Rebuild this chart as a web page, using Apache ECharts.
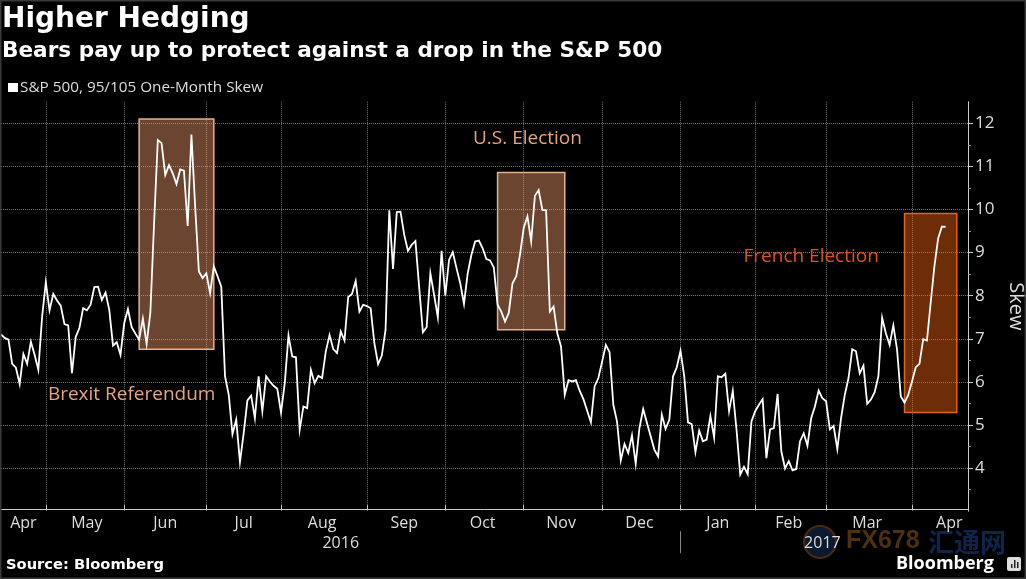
<!DOCTYPE html>
<html>
<head>
<meta charset="utf-8">
<style>
html,body{margin:0;padding:0;background:#000;}
#chart{width:1026px;height:579px;}
</style>
<script src="https://cdn.jsdelivr.net/npm/echarts@6/dist/echarts.min.js"></script>
</head>
<body>
<div id="chart"></div>
<script>
// skew per trading day
var apr16 = [7.10,7.02,6.98,6.42,6.33,5.95,6.65,6.42,6.93,6.63,6.28,7.50];
var may16 = [8.31,7.66,8.04,7.89,7.77,7.34,7.31,6.20,7.04,7.25,7.71,7.66,7.79,8.20,8.21,7.90,8.07,7.67,6.84,6.92,6.63];
var jun16 = [7.36,7.69,7.27,7.12,6.98,7.47,6.88,7.60,9.68,11.61,11.54,10.80,11.03,10.84,10.59,10.93,10.90,9.62,11.74,10.07,8.56,8.41];
var jul16 = [8.52,8.06,8.68,8.45,8.21,6.13,5.70,4.79,5.12,4.14,4.81,5.57,5.68,5.16,6.13,5.32,6.13,6.01,5.91,5.84];
var aug16 = [5.29,5.97,7.08,6.59,6.57,4.89,5.43,5.39,6.28,5.97,6.14,6.09,6.71,7.09,6.76,6.67,7.17,6.96,7.97,8.04,8.34,7.63,7.79];
var sep16 = [7.76,7.71,6.90,6.41,6.61,7.21,9.98,8.62,9.94,9.95,9.41,9.04,9.18,9.27,8.20,7.15,7.27,8.52,8.02,7.50,9.04];
var oct16 = [8.00,8.83,9.01,8.64,8.29,7.81,8.52,8.95,9.26,9.28,9.10,8.85,8.82,8.65,7.79,7.63,7.40,7.60,8.29,8.45,8.95];
var nov16 = [9.57,9.84,9.26,10.32,10.45,9.99,9.98,7.63,7.75,7.13,6.82,5.70,6.04,6.01,6.04,5.79,5.60,5.33,5.06,5.90,6.09];
var dec16 = [6.47,6.86,6.69,5.47,5.08,4.18,4.56,4.35,4.76,4.10,4.93,5.37,5.05,4.74,4.43,4.27,5.24,4.91,5.12,6.13,6.34];
var jan17 = [6.72,6.13,5.06,5.02,4.37,4.87,4.62,4.66,5.21,4.71,6.13,6.11,6.19,5.32,5.79,4.89,3.85,4.03,3.86,5.08];
var feb17 = [5.32,5.47,5.60,4.23,4.90,4.93,5.72,4.39,3.99,4.16,3.95,3.98,4.62,4.81,4.52,5.16,5.43,5.80,5.62];
var mar17 = [5.55,4.90,4.98,4.44,5.16,5.70,6.09,6.76,6.71,6.20,6.38,5.49,5.59,5.76,6.13,7.49,7.13,6.86,7.31,6.75,5.66,5.52,5.70];
var apr17 = [6.01,6.34,6.42,6.99,6.96,7.83,8.68,9.33,9.60,9.60];
var axisPadding = [null,null,null,null,null,null];

var monthNames = ['Apr','May','Jun','Jul','Aug','Sep','Oct','Nov','Dec','Jan','Feb','Mar','Apr'];
var monthLabelIndex = [6,23,44,65,86,108,129,150,171,192,211,232,254];
var yearNames = ['2016','2017'];
var yearLabelIndex = [91,220];
var yTicks = [4,5,6,7,8,9,10,11,12];

// annotation boxes: first index, last index, top, bottom
var brexitBox = [37,57,12.10,6.76];
var usBox = [133,151,10.86,7.21];
var frenchBox = [242,256,9.91,5.29];
// annotation text: index, value
var brexitText = [35,5.70];
var usText = [141,11.64];
var frenchText = [217,8.90];

var months = [apr16,may16,jun16,jul16,aug16,sep16,oct16,nov16,dec16,jan17,feb17,mar17,apr17];
var skew = [].concat.apply([],months).concat(axisPadding);
var categories = skew.map(function(v,i){ return 'd'+i; });

// index of first trading day of each month, Apr 2016 is cut off so skip it
var monthStarts = [];
var n = 0;
months.forEach(function(m,i){ if(i>0) monthStarts.push(n); n += m.length; });
var jan17Start = monthStarts[8];

var myChart = echarts.init(document.getElementById('chart'));
var textFont = '"Open Sans"';

var option = {
    animation:false,
    backgroundColor:'#000',
    title:[
        {text:'Higher Hedging',left:2,top:6,padding:0,textStyle:{color:'#fff',fontFamily:'"DejaVu Sans"',fontWeight:'bold',fontSize:28}},
        {text:'Bears pay up to protect against a drop in the S&P 500',left:2,top:40,padding:0,textStyle:{color:'#fff',fontFamily:'"DejaVu Sans"',fontWeight:'bold',fontSize:21.6}}
    ],
    legend:{
        left:8,top:80,padding:0,itemWidth:10,itemHeight:9,itemGap:2,icon:'rect',
        data:['S&P 500, 95/105 One-Month Skew'],
        textStyle:{color:'#ddd',fontFamily:textFont,fontSize:15.3,padding:[0,0,0,-3]}
    },
    grid:{left:1,width:967,top:101.75,height:409.45,outerBoundsMode:'none'},
    xAxis:[
        {
            type:'category',data:categories,boundaryGap:false,position:'bottom',offset:-2,
            axisLine:{lineStyle:{color:'#ccc',width:1}},
            axisTick:{inside:true,length:4,lineStyle:{color:'#ccc'},interval:function(i){ return monthStarts.indexOf(i)>=0; }},
            splitLine:{show:true,lineStyle:{color:'#777',type:'dotted',width:1},interval:function(i){ return monthStarts.indexOf(i)>=0; }},
            axisLabel:{
                color:'#ddd',fontFamily:textFont,fontSize:16,margin:6,
                interval:function(i){ return monthLabelIndex.indexOf(i)>=0; },
                formatter:function(v,i){ return monthNames[monthLabelIndex.indexOf(i)]; }
            }
        },
        {
            type:'category',data:categories,boundaryGap:false,position:'bottom',offset:20,
            axisLine:{show:false},
            axisTick:{length:22,lineStyle:{color:'#888'},interval:function(i){ return i===jan17Start; }},
            axisLabel:{
                color:'#ddd',fontFamily:textFont,fontSize:16,margin:4,
                interval:function(i){ return yearLabelIndex.indexOf(i)>=0; },
                formatter:function(v,i){ return yearNames[yearLabelIndex.indexOf(i)]; }
            }
        }
    ],
    yAxis:{
        type:'value',position:'right',min:3,max:12.5,interval:1,
        name:'Skew',nameLocation:'middle',nameRotate:-90,nameGap:33,
        nameTextStyle:{color:'#ddd',fontFamily:textFont,fontSize:20},
        axisLine:{show:true,lineStyle:{color:'#ccc'}},
        axisTick:{show:true,length:5,lineStyle:{color:'#ccc'},customValues:yTicks},
        minorTick:{show:true,splitNumber:2,length:3,lineStyle:{color:'#999'}},
        splitLine:{show:true,lineStyle:{color:'#777',type:'dotted',width:1}},
        axisLabel:{color:'#ddd',fontFamily:textFont,fontSize:17,margin:7,customValues:yTicks}
    },
    series:[
        {
            name:'S&P 500, 95/105 One-Month Skew',type:'line',data:skew,z:2,
            showSymbol:false,symbol:'none',
            itemStyle:{color:'#fff'},
            lineStyle:{color:'#fff',width:1.8,join:'miter'}
        },
        {
            // boxes sit over the line so it gets tinted like in the picture
            type:'line',data:[],z:5,
            markArea:{
                silent:true,
                data:[
                    [{xAxis:brexitBox[0],yAxis:brexitBox[2],itemStyle:{color:'rgba(238,153,107,0.45)',borderColor:'#e8b08a',borderWidth:1.5}},{xAxis:brexitBox[1],yAxis:brexitBox[3]}],
                    [{xAxis:usBox[0],yAxis:usBox[2],itemStyle:{color:'rgba(238,153,107,0.45)',borderColor:'#e8b08a',borderWidth:1.5}},{xAxis:usBox[1],yAxis:usBox[3]}],
                    [{xAxis:frenchBox[0],yAxis:frenchBox[2],itemStyle:{color:'rgba(244,98,18,0.45)',borderColor:'#e0651f',borderWidth:1.5}},{xAxis:frenchBox[1],yAxis:frenchBox[3]}]
                ]
            },
            markPoint:{
                silent:true,symbol:'circle',symbolSize:1,itemStyle:{color:'rgba(0,0,0,0)'},
                label:{show:true,position:'inside',formatter:'{b}',fontFamily:textFont,fontSize:19},
                data:[
                    {name:'Brexit Referendum',coord:brexitText,label:{color:'#e8a47c'}},
                    {name:'U.S. Election',coord:usText,label:{color:'#e8a47c'}},
                    {name:'French Election',coord:frenchText,label:{color:'#e0521a'}}
                ]
            }
        }
    ],
    graphic:[
        {type:'rect',silent:true,shape:{x:0,y:0,width:1026,height:579},style:{fill:'none',stroke:'#3a3a3a',lineWidth:3},z:20},
        {type:'text',left:6,top:558,style:{text:'Source: Bloomberg',fill:'#fff',font:'bold 14.7px "DejaVu Sans"'}},
        {type:'text',left:896,top:555,style:{text:'Bloomberg',fill:'#fff',font:'bold 18px "Open Sans"'}},
        {type:'rect',shape:{x:1007,y:557,width:14,height:14,r:2},style:{fill:'#ddd'}},
        {type:'rect',shape:{x:1011,y:564,width:1.5,height:4},style:{fill:'#222'}},
        {type:'rect',shape:{x:1014,y:560,width:1.5,height:8},style:{fill:'#222'}},
        {type:'rect',shape:{x:1017,y:562,width:1.5,height:6},style:{fill:'#222'}},
        // watermark
        {type:'circle',shape:{cx:820,cy:542,r:16},style:{fill:'#0c1a30',stroke:'#4a2a14',lineWidth:2},z:-1},
        {type:'text',left:846,top:529,z:-1,style:{text:'FX678',fill:'#4d3010',font:'bold 25px "Liberation Sans"'}},
        {type:'text',left:928,top:529,z:-1,style:{text:'汇通网',fill:'#10244a',font:'bold 26px "Noto Sans CJK SC"'}}
    ]
};
myChart.setOption(option);
</script>
</body>
</html>
